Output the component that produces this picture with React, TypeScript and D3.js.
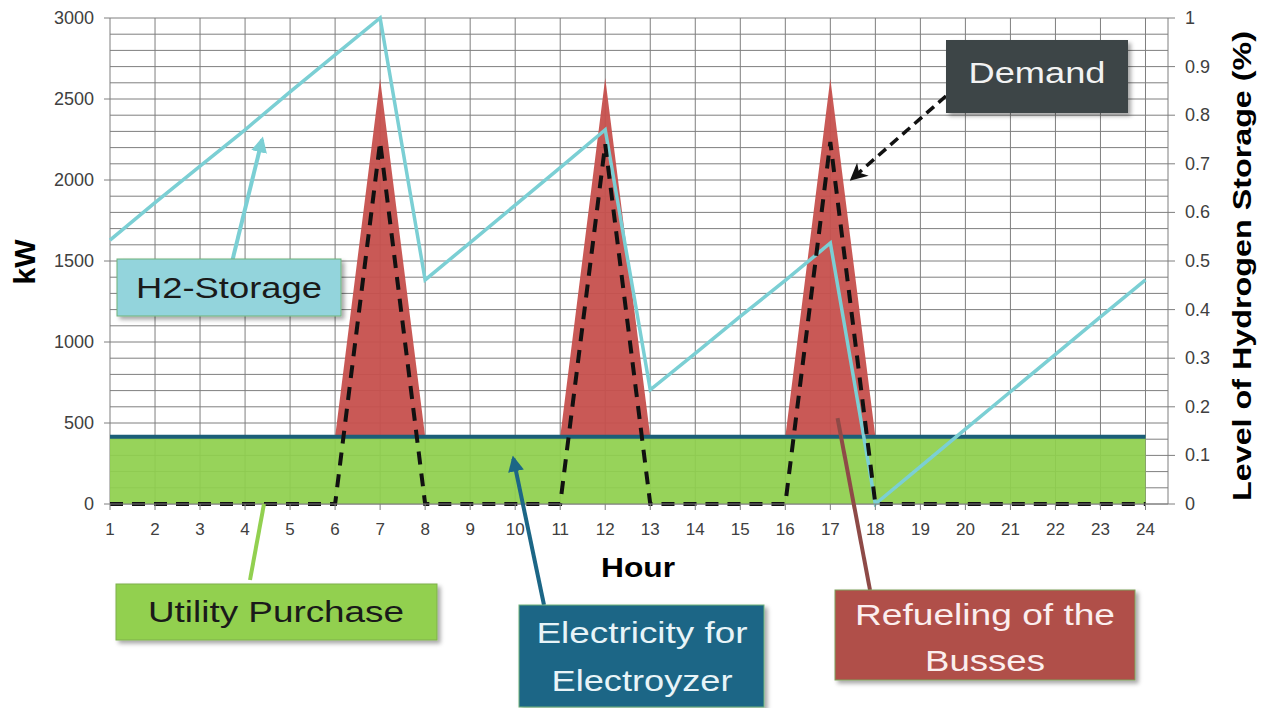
import * as d3 from "d3";

// hourly data
const hours = [1, 2, 3, 4, 5, 6, 7, 8, 9, 10, 11, 12, 13, 14, 15, 16, 17, 18, 19, 20, 21, 22, 23, 24];
const utilityKW = [415, 415, 415, 415, 415, 415, 415, 415, 415, 415, 415, 415, 415, 415, 415, 415, 415, 415, 415, 415, 415, 415, 415, 415];
const electrolyzerKW = [415, 415, 415, 415, 415, 415, 415, 415, 415, 415, 415, 415, 415, 415, 415, 415, 415, 415, 415, 415, 415, 415, 415, 415];
const refuelingKW = [0, 0, 0, 0, 0, 0, 2210, 0, 0, 0, 0, 2215, 0, 0, 0, 0, 2210, 0, 0, 0, 0, 0, 0, 0];
const demandKW = [0, 0, 0, 0, 0, 0, 2235, 0, 0, 0, 0, 2220, 0, 0, 0, 0, 2235, 0, 0, 0, 0, 0, 0, 0];
const h2Level = [0.543, 0.62, 0.695, 0.77, 0.848, 0.924, 1.0, 0.461, 0.538, 0.615, 0.692, 0.77, 0.235, 0.31, 0.386, 0.46, 0.537, 0.0, 0.077, 0.154, 0.231, 0.308, 0.385, 0.461];

const kwTicks = [0, 500, 1000, 1500, 2000, 2500, 3000];
const kwGrid = [100, 200, 300, 400, 600, 700, 800, 900, 1100, 1200, 1300, 1400, 1600, 1700, 1800, 1900, 2100, 2200, 2300, 2400, 2600, 2700, 2800, 2900];
const levelTicks = [0, 0.1, 0.2, 0.3, 0.4, 0.5, 0.6, 0.7, 0.8, 0.9, 1];
const levelLabels = ["0", "0.1", "0.2", "0.3", "0.4", "0.5", "0.6", "0.7", "0.8", "0.9", "1"];

const W = 1268;
const H = 708;
const FONT = "'Liberation Sans', Arial, sans-serif";

export default function App() {
  const x = d3.scaleLinear().domain([1, 24.5]).range([110, 1168]);
  const y = d3.scaleLinear().domain([0, 3000]).range([504, 18]);
  const y2 = d3.scaleLinear().domain([0, 1]).range([504, 18]);

  const rows = hours.map((h, i) => ({
    h,
    util: utilityKW[i],
    elec: electrolyzerKW[i],
    refuel: refuelingKW[i],
    demand: demandKW[i],
    level: h2Level[i],
  }));

  const utilArea = d3
    .area<any>()
    .x((d) => x(d.h))
    .y0(y(0))
    .y1((d) => y(d.util))(rows);

  const refuelArea = d3
    .area<any>()
    .x((d) => x(d.h))
    .y0((d) => y(d.util))
    .y1((d) => y(d.util + d.refuel))(rows);

  const elecLine = d3
    .line<any>()
    .x((d) => x(d.h))
    .y((d) => y(d.elec))(rows);

  const demandLine = d3
    .line<any>()
    .x((d) => x(d.h))
    .y((d) => y(d.demand))(rows);

  const levelLine = d3
    .line<any>()
    .x((d) => x(d.h))
    .y((d) => y2(d.level))(rows);

  const gridColor = "#7f7f7f";
  const tickColor = "#404040";

  return (
    <svg
      width={W}
      height={H}
      style={{ position: "fixed", left: 0, top: 0, background: "#fff" }}
      fontFamily={FONT}
    >
      <defs>
        <filter id="shadow" x="-10%" y="-10%" width="130%" height="140%">
          <feDropShadow dx="3" dy="3" stdDeviation="2" floodColor="#000" floodOpacity="0.35" />
        </filter>
        <marker id="arrCyan" viewBox="0 0 10 10" refX="8" refY="5" markerWidth="4" markerHeight="4" orient="auto">
          <path d="M0,0 L10,5 L0,10 z" fill="#7BCFD4" />
        </marker>
        <marker id="arrBlue" viewBox="0 0 10 10" refX="8" refY="5" markerWidth="4" markerHeight="4" orient="auto">
          <path d="M0,0 L10,5 L0,10 z" fill="#1C6686" />
        </marker>
        <marker id="arrBlack" viewBox="0 0 10 10" refX="8" refY="5" markerWidth="5" markerHeight="5" orient="auto">
          <path d="M0,0 L10,5 L0,10 L3,5 z" fill="#111" />
        </marker>
      </defs>

      {/* grid */}
      {kwGrid.concat(kwTicks).map((v) => (
        <line key={"h" + v} x1={x(1)} x2={x(24.5)} y1={y(v)} y2={y(v)} stroke={gridColor} strokeWidth={1} />
      ))}
      {hours.map((h) => (
        <line key={"v" + h} x1={x(h)} x2={x(h)} y1={y(0)} y2={y(3000)} stroke={gridColor} strokeWidth={1} />
      ))}
      <line x1={x(24.5)} x2={x(24.5)} y1={y(0)} y2={y(3000)} stroke={gridColor} strokeWidth={1} />

      {/* stacked areas */}
      <path d={utilArea!} fill="#8FD04E" fillOpacity={0.93} />
      <path d={refuelArea!} fill="#C6504D" fillOpacity={0.95} />

      <path d={elecLine!} fill="none" stroke="#1B5E78" strokeWidth={4} />
      <path d={levelLine!} fill="none" stroke="#7BCFD4" strokeWidth={3.5} strokeLinejoin="miter" />
      <path d={demandLine!} fill="none" stroke="#111" strokeWidth={4} strokeDasharray="13 9" />

      {/* x axis */}
      <line x1={x(1)} x2={x(24.5)} y1={y(0)} y2={y(0)} stroke={gridColor} />
      {hours.map((h) => (
        <g key={"xt" + h}>
          <line x1={x(h)} x2={x(h)} y1={y(0)} y2={y(0) + 6} stroke={gridColor} />
          <text x={x(h)} y={535} textAnchor="middle" fontSize={17} fill={tickColor}>
            {h}
          </text>
        </g>
      ))}

      {/* left axis */}
      {kwTicks.map((v) => (
        <g key={"yt" + v}>
          <line x1={x(1) - 6} x2={x(1)} y1={y(v)} y2={y(v)} stroke={gridColor} />
          <text x={94} y={y(v)} textAnchor="end" dominantBaseline="central" fontSize={18} fill={tickColor}>
            {v}
          </text>
        </g>
      ))}

      {/* right axis */}
      {levelTicks.map((v, i) => (
        <g key={"y2t" + v}>
          <line x1={x(24.5)} x2={x(24.5) + 7} y1={y2(v)} y2={y2(v)} stroke={gridColor} />
          <text x={1185} y={y2(v)} dominantBaseline="central" fontSize={18} fill={tickColor}>
            {levelLabels[i]}
          </text>
        </g>
      ))}

      {/* axis titles */}
      <text
        transform="translate(24,262) rotate(-90)"
        textAnchor="middle"
        dominantBaseline="central"
        fontSize={30}
        fontWeight="bold"
        fill="#000"
      >
        kW
      </text>
      <text x={638} y={577} textAnchor="middle" fontSize={28} fontWeight="bold" fill="#000" textLength={74} lengthAdjust="spacingAndGlyphs">
        Hour
      </text>
      <text
        transform="translate(1242,266) rotate(-90)"
        textAnchor="middle"
        dominantBaseline="central"
        fontSize={25}
        fontWeight="bold"
        fill="#000"
        textLength={470}
        lengthAdjust="spacingAndGlyphs"
      >
        Level of Hydrogen  Storage (%)
      </text>

      {/* callout arrows */}
      <line x1={232} y1={262} x2={x(4.38)} y2={y2(0.75)} stroke="#7BCFD4" strokeWidth={4} markerEnd="url(#arrCyan)" />
      <line x1={250} y1={580} x2={x(4.42)} y2={y(0)} stroke="#92D050" strokeWidth={4} />
      <line x1={544} y1={605} x2={x(9.96)} y2={y(280)} stroke="#1C6686" strokeWidth={4} markerEnd="url(#arrBlue)" />
      <line x1={870} y1={590} x2={x(17.16)} y2={y(530)} stroke="#8E4A47" strokeWidth={4} />
      <line x1={946} y1={96} x2={x(17.49)} y2={y(2010)} stroke="#111" strokeWidth={3.5} strokeDasharray="10 6" markerEnd="url(#arrBlack)" />

      {/* callout boxes */}
      <g filter="url(#shadow)">
        <rect x={117} y={259} width={224} height={57} fill="#93D4DC" stroke="#6FB27A" strokeWidth={1} />
        <rect x={946} y={40} width={182} height={73} fill="#3D4447" />
        <rect x={116} y={584} width={321} height={56} fill="#92D050" stroke="#7FB04A" strokeWidth={1} />
        <rect x={519} y={605} width={245} height={102} fill="#1C6686" stroke="#6FB27A" strokeWidth={1} />
        <rect x={835} y={590} width={300} height={90} fill="#B0504A" stroke="#7FA05A" strokeWidth={1} />
      </g>

      <text x={229} y={298} textAnchor="middle" fontSize={30} fill="#1a1a1a" textLength={186} lengthAdjust="spacingAndGlyphs">
        H2-Storage
      </text>
      <text x={1037} y={83} textAnchor="middle" fontSize={30} fill="#f2f2f2" textLength={137} lengthAdjust="spacingAndGlyphs">
        Demand
      </text>
      <text x={276} y={622} textAnchor="middle" fontSize={30} fill="#1a1a1a" textLength={256} lengthAdjust="spacingAndGlyphs">
        Utility Purchase
      </text>
      <text x={642} y={643} textAnchor="middle" fontSize={30} fill="#e8f4f8" textLength={211} lengthAdjust="spacingAndGlyphs">
        Electricity for
      </text>
      <text x={642} y={691} textAnchor="middle" fontSize={30} fill="#e8f4f8" textLength={181} lengthAdjust="spacingAndGlyphs">
        Electroyzer
      </text>
      <text x={985} y={625} textAnchor="middle" fontSize={30} fill="#fbeeee" textLength={260} lengthAdjust="spacingAndGlyphs">
        Refueling of the
      </text>
      <text x={985} y={671} textAnchor="middle" fontSize={30} fill="#fbeeee" textLength={120} lengthAdjust="spacingAndGlyphs">
        Busses
      </text>
    </svg>
  );
}
